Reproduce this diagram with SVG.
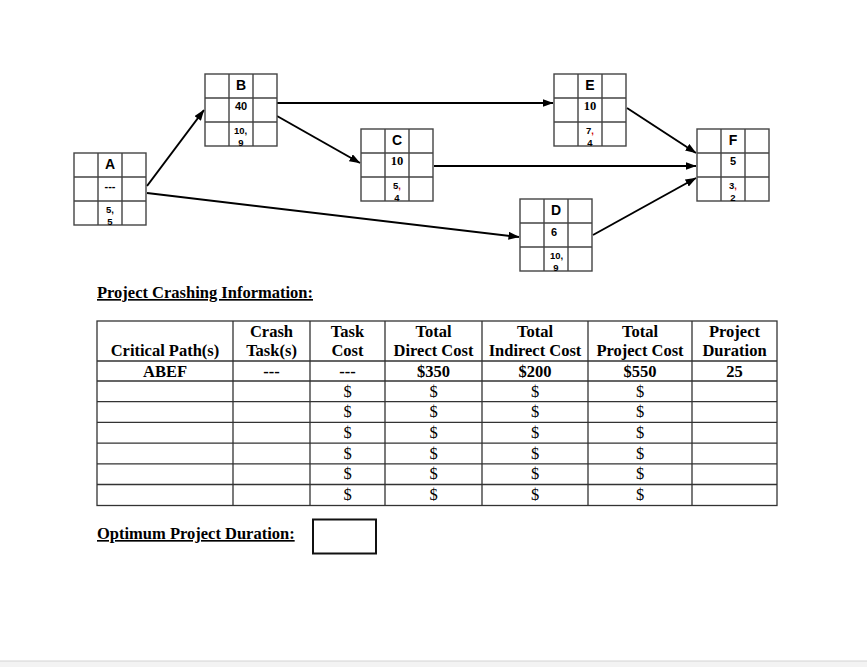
<svg xmlns="http://www.w3.org/2000/svg" width="867" height="667" viewBox="0 0 867 667">
<style>
.cell{fill:#fff;stroke:#444;stroke-width:1.4}
.grid{stroke:#444;stroke-width:1.4;fill:none}
.lt{font-family:"Liberation Sans",Arial,sans-serif;font-weight:bold;font-size:14px;text-anchor:middle;fill:#000}
.du{font-family:"Liberation Sans",Arial,sans-serif;font-weight:bold;font-size:11px;text-anchor:middle;fill:#000}
.dt{font-family:"Liberation Serif","Times New Roman",serif;font-weight:bold;font-size:12.5px;text-anchor:middle;fill:#000}
.sm{font-family:"Liberation Sans",Arial,sans-serif;font-weight:bold;font-size:9.5px;text-anchor:middle;fill:#000}
.red{fill:#c00}
.conn{stroke:#000;stroke-width:2;fill:none}
.tb{stroke:#333;stroke-width:1.3;fill:none}
.th{font-family:"Liberation Serif","Times New Roman",serif;font-weight:bold;font-size:16.5px;text-anchor:middle;fill:#000}
.td{font-family:"Liberation Serif","Times New Roman",serif;font-size:16.5px;text-anchor:middle;fill:#000}
.ttl{font-family:"Liberation Serif","Times New Roman",serif;font-weight:bold;font-size:16.5px;text-decoration:underline;fill:#000}
</style>
<defs>
<marker id="arrow" markerWidth="11" markerHeight="8" refX="10.5" refY="4" orient="auto" markerUnits="userSpaceOnUse">
<path d="M0,0 L11,4 L0,8 z" fill="#000"/>
</marker>
<g id="gridlines">
<rect class="cell" x="0" y="0" width="72" height="72"/>
<path class="grid" d="M24,0V72M48,0V72M0,24H72M0,48H72"/>
</g>
</defs>
<rect width="867" height="667" fill="#fff"/>

<g id="connectors">
<line class="conn" x1="147" y1="186" x2="204" y2="110" marker-end="url(#arrow)"/>
<line class="conn" x1="147" y1="193" x2="519" y2="237" marker-end="url(#arrow)"/>
<line class="conn" x1="277" y1="103" x2="553" y2="103" marker-end="url(#arrow)"/>
<line class="conn" x1="277" y1="116" x2="360" y2="163" marker-end="url(#arrow)"/>
<line class="conn" x1="627" y1="108" x2="696" y2="153" marker-end="url(#arrow)"/>
<line class="conn" x1="434" y1="166" x2="696" y2="166" marker-end="url(#arrow)"/>
<line class="conn" x1="593" y1="235" x2="696" y2="178" marker-end="url(#arrow)"/>
</g>

<g id="node-A" transform="translate(74,153)">
<use href="#gridlines"/>
<text class="lt" x="36" y="16">A</text>
<text class="du" x="36" y="37">---</text>
<text class="sm" x="36" y="59.5">5,</text>
<text class="sm" x="36" y="72">5</text>
</g>
<g id="node-B" transform="translate(205,74)">
<use href="#gridlines"/>
<text class="lt" x="36" y="16">B</text>
<text class="du" x="36" y="35.5">40</text>
<text class="sm" x="35.5" y="59.5">10,</text>
<text class="sm" x="36" y="72">9</text>
</g>
<g id="node-C" transform="translate(361,129)">
<use href="#gridlines"/>
<text class="lt" x="36" y="16">C</text>
<text class="dt" x="36" y="36">10</text>
<text class="sm" x="36" y="59.5">5<tspan class="red">,</tspan></text>
<text class="sm" x="36" y="72">4</text>
</g>
<g id="node-D" transform="translate(520,199)">
<use href="#gridlines"/>
<text class="lt" x="36" y="16">D</text>
<text class="du" x="34" y="37">6</text>
<text class="sm" x="36.5" y="59.5">10,</text>
<text class="sm" x="36" y="72">9</text>
</g>
<g id="node-E" transform="translate(554,74)">
<use href="#gridlines"/>
<text class="lt" x="36" y="16">E</text>
<text class="dt" x="36" y="36">10</text>
<text class="sm" x="36" y="59.5">7<tspan class="red">,</tspan></text>
<text class="sm" x="36" y="72">4</text>
</g>
<g id="node-F" transform="translate(697,129)">
<use href="#gridlines"/>
<text class="lt" x="36" y="16">F</text>
<text class="du" x="36" y="36">5</text>
<text class="sm" x="36" y="59.5">3<tspan class="red">,</tspan></text>
<text class="sm" x="36" y="72">2</text>
</g>

<text class="ttl" x="97" y="298">Project Crashing Information:</text>

<g id="table">
<rect class="tb" x="97" y="321" width="680" height="184.5"/>
<path class="tb" d="M233,321V505.5M310,321V505.5M385,321V505.5M482,321V505.5M588,321V505.5M692,321V505.5"/>
<path class="tb" d="M97,361H777M97,381H777M97,401.7H777M97,422.4H777M97,443.1H777M97,463.8H777M97,484.5H777"/>
<text class="th" x="165" y="356">Critical Path(s)</text>
<text class="th" x="271.5" y="337">Crash</text>
<text class="th" x="271.5" y="356">Task(s)</text>
<text class="th" x="347.5" y="337">Task</text>
<text class="th" x="347.5" y="356">Cost</text>
<text class="th" x="433.5" y="337">Total</text>
<text class="th" x="433.5" y="356">Direct Cost</text>
<text class="th" x="535" y="337">Total</text>
<text class="th" x="535" y="356">Indirect Cost</text>
<text class="th" x="640" y="337">Total</text>
<text class="th" x="640" y="356">Project Cost</text>
<text class="th" x="734.5" y="337">Project</text>
<text class="th" x="734.5" y="356">Duration</text>
<text class="th" x="165" y="377">ABEF</text>
<text class="th" x="271.5" y="377">---</text>
<text class="th" x="347.5" y="377">---</text>
<text class="th" x="433.5" y="377">$350</text>
<text class="th" x="535" y="377">$200</text>
<text class="th" x="640" y="377">$550</text>
<text class="th" x="734.5" y="377">25</text>
<g class="dollars">
<text class="td" x="347.5" y="396.5">$</text><text class="td" x="433.5" y="396.5">$</text><text class="td" x="535" y="396.5">$</text><text class="td" x="640" y="396.5">$</text>
<text class="td" x="347.5" y="417.2">$</text><text class="td" x="433.5" y="417.2">$</text><text class="td" x="535" y="417.2">$</text><text class="td" x="640" y="417.2">$</text>
<text class="td" x="347.5" y="437.9">$</text><text class="td" x="433.5" y="437.9">$</text><text class="td" x="535" y="437.9">$</text><text class="td" x="640" y="437.9">$</text>
<text class="td" x="347.5" y="458.6">$</text><text class="td" x="433.5" y="458.6">$</text><text class="td" x="535" y="458.6">$</text><text class="td" x="640" y="458.6">$</text>
<text class="td" x="347.5" y="479.3">$</text><text class="td" x="433.5" y="479.3">$</text><text class="td" x="535" y="479.3">$</text><text class="td" x="640" y="479.3">$</text>
<text class="td" x="347.5" y="500">$</text><text class="td" x="433.5" y="500">$</text><text class="td" x="535" y="500">$</text><text class="td" x="640" y="500">$</text>
</g>
</g>

<text class="ttl" x="97" y="539">Optimum Project Duration:</text>
<rect x="313" y="519.5" width="63" height="34" fill="#fff" stroke="#111" stroke-width="2"/>

<rect x="0" y="661" width="867" height="6" fill="#f3f3f3"/>
<line x1="0" y1="661" x2="867" y2="661" stroke="#d4d4d4" stroke-width="1"/>
</svg>
